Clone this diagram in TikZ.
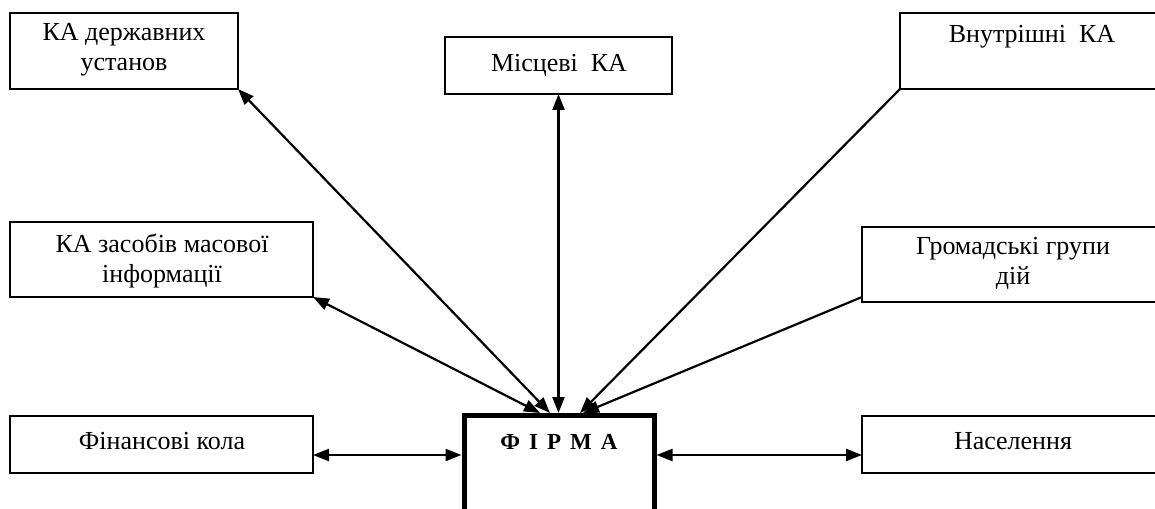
\documentclass[tikz,border=0pt]{standalone}
\usepackage{fontspec}
\setmainfont{Liberation Serif}
\usetikzlibrary{arrows.meta}
\begin{document}
\begin{tikzpicture}[x=1pt,y=1pt]
\tikzset{
  box/.style={draw, line width=1.8pt, inner sep=0pt, outer sep=0pt, anchor=north west},
  lbl/.style={align=center, inner sep=0pt, font=\fontsize{26}{30}\selectfont},
  conn/.style={line width=2.2pt},
  head/.style={-{Triangle[length=16pt,width=12pt]}},
  twohead/.style={{Triangle[length=16pt,width=12pt]}-{Triangle[length=16pt,width=12pt]}},
}
\useasboundingbox (0,0) rectangle (1155,-508);

% outer boxes
\node[box, minimum width=228pt, minimum height=76pt] (b1) at (10,-13) {};
\node[box, minimum width=227pt, minimum height=57pt] (b2) at (445,-37) {};
\node[box, minimum width=260pt, minimum height=76pt] (b3) at (900,-13) {};
\node[box, minimum width=303pt, minimum height=75pt] (b4) at (10,-222) {};
\node[box, minimum width=298pt, minimum height=75pt] (b5) at (862,-227) {};
\node[box, minimum width=303pt, minimum height=57pt] (b6) at (10,-416) {};
\node[box, minimum width=298pt, minimum height=57pt] (b7) at (862,-416) {};

% the firm (open at the bottom edge of the page)
\node[draw, line width=5pt, inner sep=0pt, outer sep=0pt, anchor=north west,
      minimum width=190pt, minimum height=140pt] (firm) at (464,-415.5) {};

% labels
\node[lbl] (t1) at (124,-50) {КА державних\\установ};
\node[lbl] (t2) at (559,-65) {Місцеві\ \ КА};
\node[lbl] (t3) at (1032,-37) {Внутрішні\ \ КА};
\node[lbl] (t4) at (162,-261) {КА засобів масової\\інформації};
\node[lbl] (t5) at (1013,-263) {Громадські групи\\дій};
\node[lbl] (t6) at (162,-441) {Фінансові кола};
\node[lbl] (t7) at (1013,-441) {Населення};
\node[inner sep=0pt, font=\bfseries\fontsize{23}{27}\selectfont] (tf) at (559,-442)
  {Ф\hspace{9pt}І\hspace{9pt}Р\hspace{9pt}М\hspace{9pt}А};

% arrival points on the top of the firm
\coordinate (fz) at ([xshift=76pt,yshift=2.5pt]firm.north west);
\coordinate (fd) at ([xshift=86pt,yshift=2.5pt]firm.north west);
\coordinate (fi) at ([xshift=116pt,yshift=2.5pt]firm.north west);
\coordinate (fh) at ([xshift=119pt,yshift=2.5pt]firm.north west);
\coordinate (hl) at (0,-455);

% connectors
\draw[conn, twohead] (b1.south east) -- (fd);
\draw[conn, twohead] (b2.south) -- (b2.south |- fz);
\draw[conn, twohead] (b4.south east) -- (fz);
\draw[conn, head] (b3.south west) -- (fi);
\draw[conn, head] ([yshift=5pt]b5.south west) -- (fh);
\draw[conn, twohead, shorten >=2.5pt] (b6.east |- hl) -- (firm.west |- hl);
\draw[conn, twohead, shorten <=2.5pt] (firm.east |- hl) -- (b7.west |- hl);
\end{tikzpicture}
\end{document}
